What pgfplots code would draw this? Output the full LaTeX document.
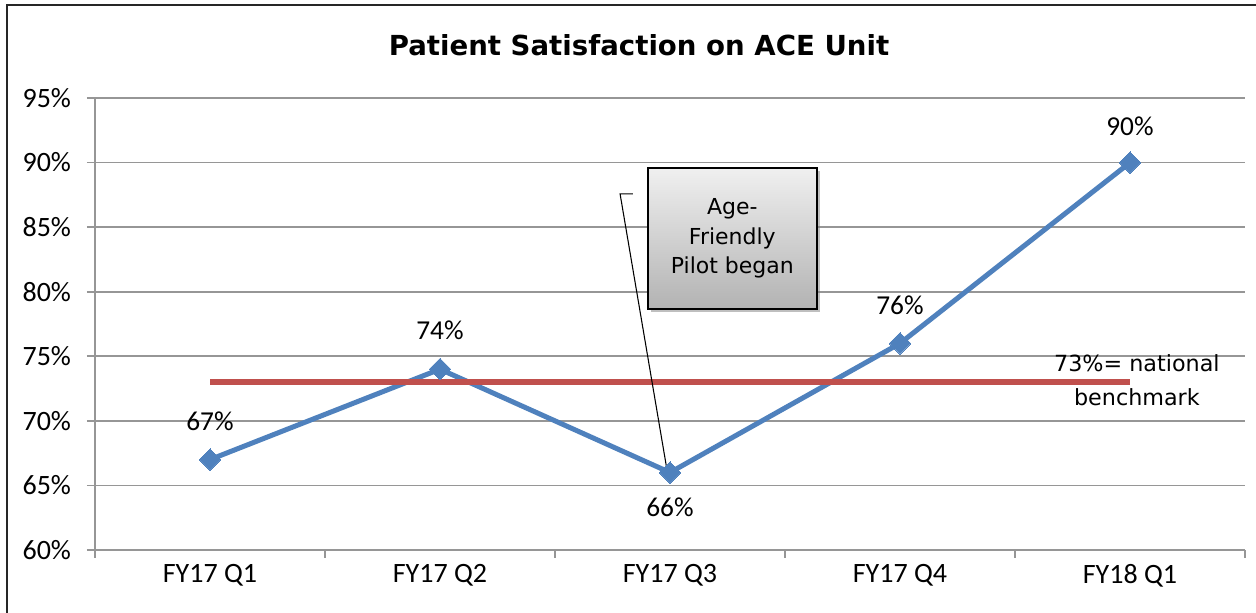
\documentclass[border=0pt]{standalone}
\usepackage{pgfplots}
\pgfplotsset{compat=1.18}
\usepackage{fontspec}
\setmainfont{Carlito}
\newfontfamily\dejavu{DejaVu Sans}
\usetikzlibrary{shadows}
\definecolor{serblue}{RGB}{79,129,189}
\definecolor{serred}{RGB}{192,80,77}
\definecolor{gridgray}{RGB}{150,150,150}
\pgfplotstableread{
x y off
1 67 28.5
2 74 29
3 66 -26
4 76 28.5
5 90 27
}\satdata
\pgfplotstableread{
x y
1 73
5 73
}\benchdata
\begin{document}
\begin{tikzpicture}
\path[use as bounding box] (0,0) rectangle (942pt,459.75pt);
\draw[line width=1.6pt, black!85] (5.25pt,0) -- (5.25pt,456pt) -- (942pt,456pt);
\node[font=\dejavu\bfseries\fontsize{20.7}{24}\selectfont] at (479.25pt,426pt) {Patient Satisfaction on ACE Unit};
\begin{axis}[
  at={(71.25pt,47.25pt)}, anchor=south west,
  scale only axis, width=862.5pt, height=339pt,
  xmin=0.5, xmax=5.5, ymin=60, ymax=95,
  /pgf/number format/assume math mode=true,
  axis lines*=left,
  axis line style={draw=gridgray, line width=1.2pt},
  tick align=outside,
  major tick length=6pt,
  tick style={draw=gridgray, line width=1.2pt},
  xtick={0.5,1.5,...,5.5}, xticklabels={},
  extra x ticks={1,2,3,4,5},
  extra x tick labels={FY17 Q1,FY17 Q2,FY17 Q3,FY17 Q4,FY18 Q1},
  extra x tick style={major tick length=0pt, grid=none},
  ytick={60,65,...,95},
  yticklabels={60\%,65\%,70\%,75\%,80\%,85\%,90\%,95\%},
  ymajorgrids,
  grid style={draw=gridgray, line width=1.2pt},
  ticklabel style={font=\fontsize{21}{25}\selectfont},
  xticklabel style={yshift=-7pt},
  yticklabel style={xshift=-8.5pt},
  clip=false,
]
\addplot[serblue, line width=3.75pt, mark=square*, mark size=5.7pt,
  mark options={rotate=45, line width=0pt, fill=serblue},
  nodes near coords={\pgfmathprintnumber{\pgfplotspointmeta}\%},
  point meta=y,
  visualization depends on={\thisrow{off} \as \off},
  every node near coord/.append style={font=\fontsize{20.5}{24}\selectfont, text=black, anchor=center, yshift=\off pt},
] table[x=x, y=y] {\satdata};
\addplot[serred, line width=4pt, mark=none] table[x=x, y=y] {\benchdata};
\draw[black, line width=0.8pt] (axis cs:2.839,87.57) -- (axis cs:2.783,87.57) -- (axis cs:2.985,66.4);
\node[draw=black, line width=1.2pt, top color=black!6, bottom color=black!30,
  drop shadow={shadow xshift=2pt, shadow yshift=-2pt, opacity=0.5},
  minimum width=126.75pt, minimum height=105.75pt, align=center,
  font=\dejavu\fontsize{16.5}{22}\selectfont] at (axis cs:3.271,84.12) {Age-\\Friendly\\Pilot began};
\node[align=center, font=\dejavu\fontsize{16.7}{25.5}\selectfont] at (axis cs:5.03,73.16) {73\%= national\\benchmark};
\end{axis}
\end{tikzpicture}
\end{document}
